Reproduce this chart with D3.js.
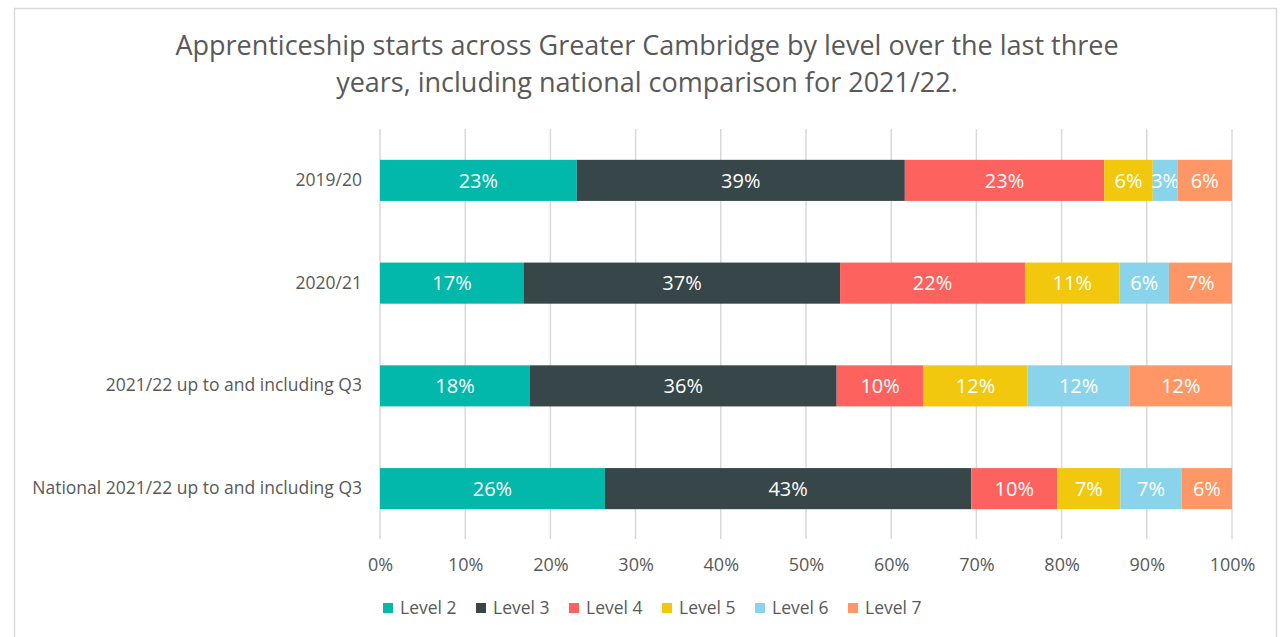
<!DOCTYPE html>
<html>
<head>
<meta charset="utf-8">
<script src="https://cdn.jsdelivr.net/npm/d3@7"></script>
<style>
  html, body { margin: 0; padding: 0; background: #fff; }
  svg text { font-family: "Open Sans", "Noto Sans", sans-serif; }
</style>
</head>
<body>
<svg id="chart" width="1286" height="637"></svg>
<script>
(function() {
  // data (share of starts, %)
  var categories = [
    "2019/20",
    "2020/21",
    "2021/22 up to and including Q3",
    "National 2021/22 up to and including Q3"
  ];
  var levels = ["Level 2", "Level 3", "Level 4", "Level 5", "Level 6", "Level 7"];
  var level2 = [23.1, 16.9, 17.6, 26.4];
  var level3 = [38.5, 37.1, 36.0, 43.0];
  var level4 = [23.4, 21.7, 10.2, 10.1];
  var level5 = [5.7, 11.1, 12.2, 7.4];
  var level6 = [2.9, 5.8, 12.0, 7.2];
  var level7 = [6.4, 7.4, 12.0, 5.9];
  var xTicks = [0, 10, 20, 30, 40, 50, 60, 70, 80, 90, 100];
  var colors = ["#01B8AA", "#374649", "#FD625E", "#F2C80F", "#8AD4EB", "#FE9666"];

  var seriesVals = [level2, level3, level4, level5, level6, level7];

  // table for d3.stack
  var rows = categories.map(function(c, i) {
    var r = { cat: c };
    levels.forEach(function(l, j) { r[l] = seriesVals[j][i]; });
    return r;
  });
  var stacked = d3.stack().keys(levels)(rows);

  var svg = d3.select("#chart");

  // outer frame
  svg.append("rect")
    .attr("x", 14.5).attr("y", 8.5)
    .attr("width", 1262).attr("height", 640)
    .attr("fill", "#fff")
    .attr("stroke", "#d9d9d9")
    .attr("stroke-width", 1.5);

  // title
  var title = svg.append("text")
    .attr("text-anchor", "middle")
    .attr("fill", "#595959")
    .style("font-size", "27px");
  title.append("tspan").attr("x", 647).attr("y", 55)
    .text("Apprenticeship starts across Greater Cambridge by level over the last three");
  title.append("tspan").attr("x", 647).attr("y", 92)
    .text("years, including national comparison for 2021/22.");

  var x = d3.scaleLinear().domain([0, 100]).range([380, 1232]);
  var y = d3.scaleBand().domain(categories).range([129, 540])
    .paddingInner(0.6).paddingOuter(0.3);

  // gridlines
  svg.append("g").selectAll("line")
    .data(xTicks)
    .enter().append("line")
      .attr("x1", function(d) { return x(d); })
      .attr("x2", function(d) { return x(d); })
      .attr("y1", 129).attr("y2", 539)
      .attr("stroke", "#d9d9d9")
      .attr("stroke-width", 1.5);

  // x axis labels
  var xAxis = d3.axisBottom(x).tickValues(xTicks)
    .tickSize(0).tickPadding(0)
    .tickFormat(function(d) { return d + "%"; });
  var gx = svg.append("g").attr("transform", "translate(0,571)").call(xAxis);
  gx.select(".domain").remove();
  gx.selectAll("text")
    .attr("dy", 0)
    .attr("fill", "#595959")
    .style("font-size", "18px");

  // y axis labels
  var yAxis = d3.axisLeft(y).tickSize(0).tickPadding(18);
  var gy = svg.append("g").attr("transform", "translate(380,0)").call(yAxis);
  gy.select(".domain").remove();
  gy.selectAll("text")
    .attr("fill", "#595959")
    .style("font-size", "17.5px");

  // bars
  var layer = svg.append("g").selectAll("g")
    .data(stacked)
    .enter().append("g")
      .attr("fill", function(d, i) { return colors[i]; });

  layer.selectAll("rect")
    .data(function(d) { return d; })
    .enter().append("rect")
      .attr("x", function(d) { return x(d[0]); })
      .attr("width", function(d) { return x(d[1]) - x(d[0]); })
      .attr("y", function(d) { return y(d.data.cat); })
      .attr("height", y.bandwidth());

  // data labels
  layer.selectAll("text")
    .data(function(d) { return d; })
    .enter().append("text")
      .attr("x", function(d) { return (x(d[0]) + x(d[1])) / 2; })
      .attr("y", function(d) { return y(d.data.cat) + y.bandwidth() / 2; })
      .attr("dy", "0.36em")
      .attr("text-anchor", "middle")
      .attr("fill", "#fff")
      .style("font-size", "20px")
      .text(function(d) { return Math.round(d[1] - d[0]) + "%"; });

  // legend
  var legend = svg.append("g").attr("transform", "translate(383,608)");
  var item = legend.selectAll("g")
    .data(levels)
    .enter().append("g")
      .attr("transform", function(d, i) { return "translate(" + (i * 93) + ",0)"; });
  item.append("rect")
    .attr("x", 0).attr("y", -5)
    .attr("width", 10).attr("height", 10)
    .attr("fill", function(d, i) { return colors[i]; });
  item.append("text")
    .attr("x", 17).attr("dy", "0.36em")
    .attr("fill", "#595959")
    .style("font-size", "17.5px")
    .text(function(d) { return d; });
})();
</script>
</body>
</html>
